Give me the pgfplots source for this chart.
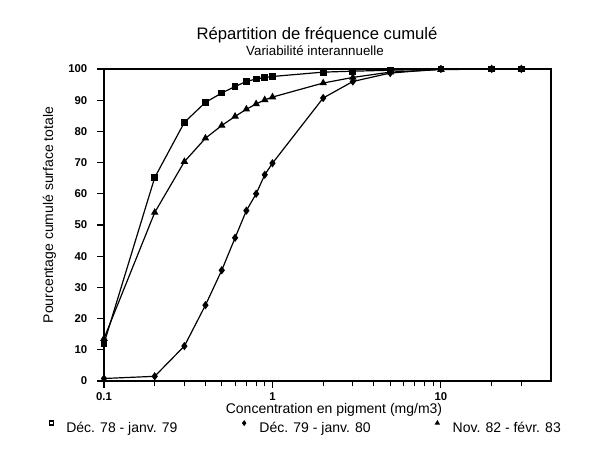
\documentclass[border=0pt]{standalone}
\usepackage{fontspec}
\setmainfont{Liberation Sans}
\usepackage{pgfplots}
\pgfplotsset{compat=1.18}

\begin{document}
\begin{tikzpicture}
% page = 600x464 px, 1 px = 0.75 pt
\path[use as bounding box] (0,0) rectangle (450pt,348pt);

\node[anchor=base,font=\fontsize{12.5}{14}\selectfont] at (237.75pt,318pt) {Répartition de fréquence cumulé};
\node[anchor=base,font=\fontsize{10}{12}\selectfont] at (236.25pt,306pt) {Variabilité interannuelle};
\node[anchor=base,font=\fontsize{10.5}{12}\selectfont] at (250.5pt,37.5pt) {Concentration en pigment (mg/m3)};
\node[rotate=90,font=\fontsize{10.5}{12}\selectfont] at (37pt,186.75pt) {Pourcentage cumulé surface totale};

\begin{axis}[
  at={(78pt,62.25pt)},anchor=south west,
  scale only axis,width=335.25pt,height=234pt,
  xmode=log,xmin=0.1,xmax=45,ymin=0,ymax=100,
  xtick={0.1,1,10},xticklabels={0.1,1,10},
  minor xtick={0.2,0.3,0.4,0.5,0.6,0.7,0.8,0.9,2,3,4,5,6,7,8,9,20,30},
  ytick={0,10,...,100},yticklabels={0,10,20,30,40,50,60,70,80,90,100},
  tick align=outside,xtick pos=bottom,ytick pos=left,
  major tick length=5pt,minor tick length=4pt,
  tick style={black,line width=0.8pt},
  axis line style={line width=1pt},
  tick label style={font=\fontsize{8.5}{10}\selectfont\bfseries},
  yticklabel style={xshift=-4pt},
  clip=false,
  legend columns=3,
  legend style={draw=none,fill=none,inner sep=0pt,at={(-0.125,-0.151)},anchor=west,
    font=\fontsize{10.5}{12}\selectfont},
  legend image code/.code={\draw[#1,only marks,mark size=1.5pt] plot coordinates {(0pt,3.75pt)};
    \path (-2pt,0pt) (9pt,0pt);},
]
\addplot[black,line width=0.9pt,mark=square*,mark size=2.1pt,forget plot] coordinates {
(0.1,12.0)(0.2,65.2)(0.3,82.9)(0.4,89.3)(0.5,92.3)(0.6,94.4)(0.7,96.0)(0.8,96.8)(0.9,97.3)(1,97.6)
(2,99.0)(3,99.3)(5,99.6)(10,100)(20,100)(30,100)};
\addlegendimage{black,mark=square,mark options={line width=1.1pt}}
\addlegendentry{\makebox[129pt][l]{Déc. 78 - janv. 79}}
\addplot[black,line width=0.9pt,mark=diamond*,mark size=2.4pt] coordinates {
(0.1,0.8)(0.2,1.5)(0.3,11.2)(0.4,24.3)(0.5,35.5)(0.6,45.9)(0.7,54.6)(0.8,60.0)(0.9,66.1)(1,69.8)
(2,90.7)(3,96.0)(5,98.7)(10,100)(20,100)(30,100)};
\addlegendentry{\makebox[129pt][l]{Déc. 79 - janv. 80}}
\addplot[black,line width=0.9pt,mark=triangle*,mark size=2.4pt] coordinates {
(0.1,13.6)(0.2,54.0)(0.3,70.3)(0.4,77.8)(0.5,81.9)(0.6,84.8)(0.7,87.1)(0.8,88.8)(0.9,90.1)(1,91.0)
(2,95.5)(3,97.3)(5,99.0)(10,99.8)(20,100)(30,100)};
\addlegendentry{Nov. 82 - févr. 83}
\end{axis}
\end{tikzpicture}
\end{document}
